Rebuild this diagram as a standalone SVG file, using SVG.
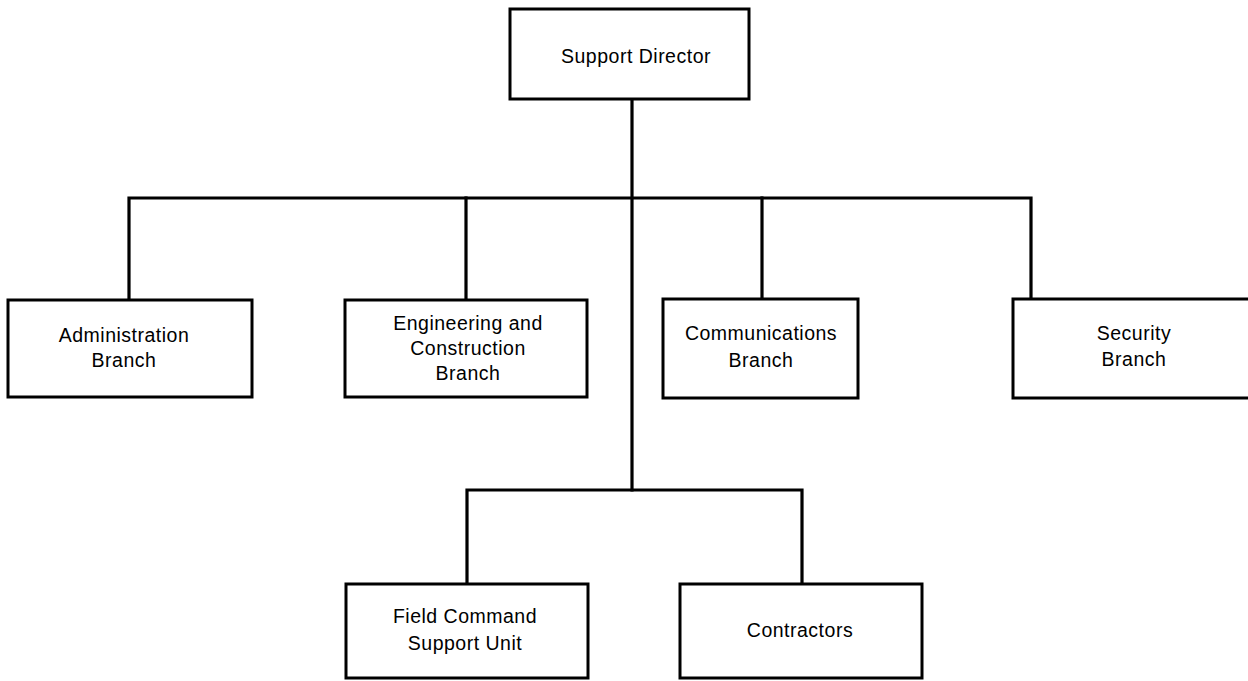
<svg xmlns="http://www.w3.org/2000/svg" width="1248" height="681" viewBox="0 0 1248 681">
<style>
.box{fill:#fff;stroke:#000;stroke-width:3}
.ln{fill:none;stroke:#000;stroke-width:3.2;stroke-linecap:square}
text{font-family:"Liberation Sans",Arial,sans-serif;font-size:19.5px;letter-spacing:0.5px;fill:#000;text-anchor:middle}
</style>
<rect width="1248" height="681" fill="#fff"/>
<g id="connectors">
<path class="ln" d="M632 99 V490"/>
<path class="ln" d="M129 300 V198 H1031 V300"/>
<path class="ln" d="M466 198 V300"/>
<path class="ln" d="M762 198 V300"/>
<path class="ln" d="M467 584 V490 H802 V584"/>
</g>
<g id="director"><rect class="box" x="510" y="9" width="239" height="90"/><text x="636" y="63">Support Director</text></g>
<g id="admin"><rect class="box" x="8" y="300" width="244" height="97"/><text x="124" y="342">Administration</text><text x="124" y="367">Branch</text></g>
<g id="engineering"><rect class="box" x="345" y="300" width="242" height="97"/><text x="468" y="330">Engineering and</text><text x="468" y="355">Construction</text><text x="468" y="380">Branch</text></g>
<g id="communications"><rect class="box" x="663" y="299" width="195" height="99"/><text x="761" y="340">Communications</text><text x="761" y="367">Branch</text></g>
<g id="security"><rect class="box" x="1013" y="299" width="245" height="99"/><text x="1134" y="340">Security</text><text x="1134" y="366">Branch</text></g>
<g id="field"><rect class="box" x="346" y="584" width="242" height="94"/><text x="465" y="623">Field Command</text><text x="465" y="650">Support Unit</text></g>
<g id="contractors"><rect class="box" x="680" y="584" width="242" height="94"/><text x="800" y="637">Contractors</text></g>
</svg>
